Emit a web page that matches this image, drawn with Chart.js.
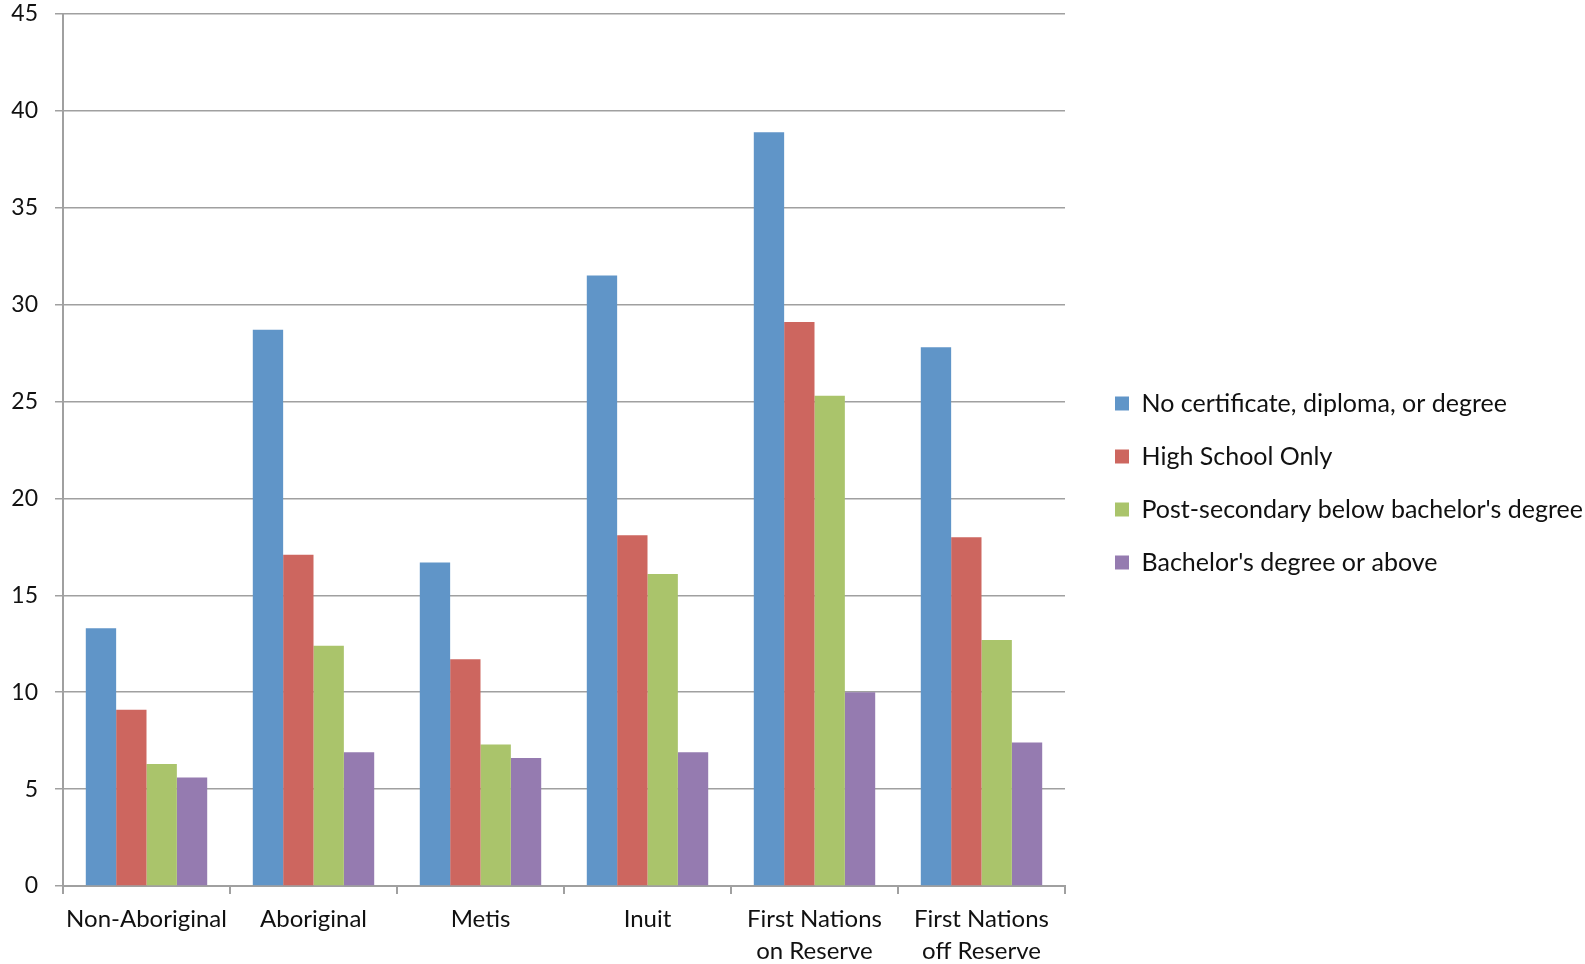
<!DOCTYPE html>
<html>
<head>
<meta charset="utf-8">
<script src="https://cdn.jsdelivr.net/npm/chart.js@4"></script>
<style>
  html, body { margin: 0; padding: 0; background: #ffffff; }
  #wrap { width: 1585px; height: 964px; position: relative; }
</style>
</head>
<body>
<div id="wrap"><canvas id="c" width="1585" height="964"></canvas></div>
<script>
const categories = [
  "Non-Aboriginal",
  "Aboriginal",
  "Metis",
  "Inuit",
  ["First Nations", "on Reserve"],
  ["First Nations", "off Reserve"]
];
const seriesNames = [
  "No certificate, diploma, or degree",
  "High School Only",
  "Post-secondary below bachelor's degree",
  "Bachelor's degree or above"
];
const noCertificate = [13.3, 28.7, 16.7, 31.5, 38.9, 27.8];
const highSchool    = [9.1, 17.1, 11.7, 18.1, 29.1, 18.0];
const postSecondary = [6.3, 12.4, 7.3, 16.1, 25.3, 12.7];
const bachelors     = [5.6, 6.9, 6.6, 6.9, 10.0, 7.4];
const yTicks = [0, 5, 10, 15, 20, 25, 30, 35, 40, 45];

const colors = ["#6095c8", "#cd665f", "#aac46b", "#957bb0"];
const values = [noCertificate, highSchool, postSecondary, bachelors];

const FONT = "Lato, 'Open Sans', sans-serif";
const LEGEND_WIDTH = 520;
const LEGEND_SHIFT = 22;

const legendShift = {
  id: "legendShift",
  afterLayout(chart) {
    if (chart.legend) {
      chart.legend.left += LEGEND_SHIFT;
      chart.legend.right += LEGEND_SHIFT;
    }
  }
};

function build() {
  const chart = new Chart(document.getElementById("c"), {
    type: "bar",
    data: {
      labels: categories,
      datasets: values.map((v, i) => ({
        label: seriesNames[i],
        data: v,
        backgroundColor: colors[i],
        borderWidth: 0,
        categoryPercentage: 0.727,
        barPercentage: 1.0
      }))
    },
    options: {
      responsive: false,
      animation: false,
      layout: { padding: { left: 0, right: 0, top: 2, bottom: 0 } },
      plugins: {
        tooltip: { enabled: false },
        legend: {
          position: "right",
          align: "center",
          labels: {
            boxWidth: 14,
            boxHeight: 14,
            padding: 28,
            color: "#111",
            font: { family: FONT, size: 25 }
          }
        }
      },
      scales: {
        x: {
          grid: {
            display: true,
            drawOnChartArea: false,
            drawTicks: true,
            tickLength: 8,
            offset: true,
            color: "#a0a0a0",
            lineWidth: 2
          },
          border: { display: true, color: "#a0a0a0", width: 2 },
          ticks: {
            color: "#111",
            padding: 10,
            maxRotation: 0,
            autoSkip: false,
            font: { family: FONT, size: 24, lineHeight: 1.3 }
          },
          afterFit: (s) => { s.height = 78; }
        },
        y: {
          min: 0,
          max: 45,
          afterBuildTicks: (s) => { s.ticks = yTicks.map(v => ({ value: v })); },
          grid: {
            color: "#a0a0a0",
            lineWidth: 1.5,
            drawTicks: true,
            tickLength: 8
          },
          border: { display: true, color: "#a0a0a0", width: 2 },
          ticks: {
            color: "#111",
            padding: 17,
            font: { family: FONT, size: 23 }
          },
          afterFit: (s) => { s.width = 63; s.paddingTop = 14; }
        }
      }
    },
    plugins: [legendShift]
  });
  const lg = chart.legend;
  const origFit = lg.fit.bind(lg);
  lg.fit = function () { origFit(); this.width = LEGEND_WIDTH; };
  chart.update();
}

Promise.all([
  document.fonts.load("23px Lato"),
  document.fonts.load("24px Lato"),
  document.fonts.load("25px Lato")
]).then(build, build);
</script>
</body>
</html>
